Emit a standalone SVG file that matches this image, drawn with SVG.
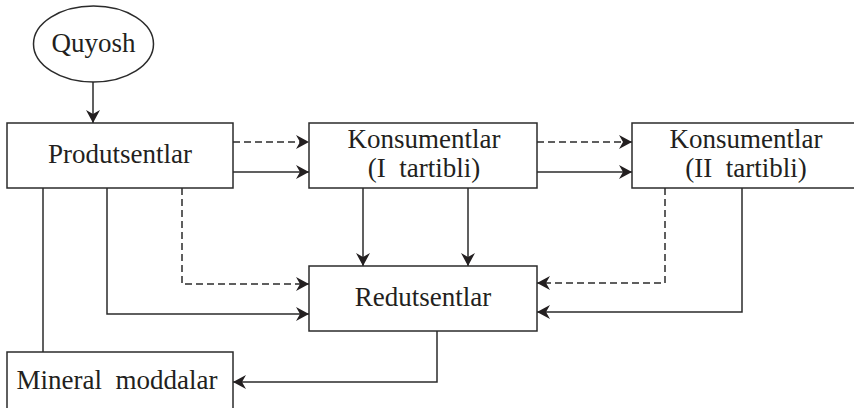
<svg xmlns="http://www.w3.org/2000/svg" width="854" height="408" viewBox="0 0 854 408">
  <style>
    .box { fill: #ffffff; stroke: #2b2b2b; stroke-width: 1.5; }
    .lbl { font-family: "Liberation Serif", "Times New Roman", serif; font-size: 27px; fill: #231f20; text-anchor: middle; }
    .ln { fill: none; stroke: #2b2b2b; stroke-width: 1.5; }
    .dash { stroke-dasharray: 7 4; }
    .arr { marker-end: url(#head); }
  </style>
  <defs>
    <marker id="head" viewBox="0 0 13 14" refX="13" refY="7" markerWidth="13" markerHeight="14" markerUnits="userSpaceOnUse" orient="auto">
      <path d="M0,0 L13,7 L0,14 L4,7 Z" fill="#231f20"/>
    </marker>
  </defs>
  <rect width="854" height="408" fill="#ffffff"/>

  <!-- connectors -->
  <g id="connectors">
    <path class="ln arr" d="M93,82 V123"/>
    <path class="ln dash arr" d="M233,142 H309"/>
    <path class="ln arr" d="M233,172 H309"/>
    <path class="ln dash arr" d="M537,142 H632"/>
    <path class="ln arr" d="M537,172 H632"/>
    <path class="ln arr" d="M363,188 V266"/>
    <path class="ln arr" d="M468,188 V266"/>
    <path class="ln dash arr" d="M182,188 V284 H309"/>
    <path class="ln arr" d="M107,188 V314 H309"/>
    <path class="ln" d="M43,188 V352"/>
    <path class="ln dash arr" d="M665,188 V283 H537"/>
    <path class="ln arr" d="M742,188 V312 H537"/>
    <path class="ln arr" d="M437,331 V382 H233"/>
  </g>

  <g id="quyosh">
    <ellipse class="box" cx="93.5" cy="44" rx="60" ry="38"/>
    <text class="lbl" x="93.5" y="52">Quyosh</text>
  </g>

  <g id="produtsentlar">
    <rect class="box" x="7" y="123" width="226" height="65"/>
    <text class="lbl" x="120" y="163">Produtsentlar</text>
  </g>

  <g id="konsumentlar-1">
    <rect class="box" x="309" y="123" width="228" height="65"/>
    <text class="lbl" x="424" y="148">Konsumentlar</text>
    <text class="lbl" x="424" y="177">(I&#160; tartibli)</text>
  </g>

  <g id="konsumentlar-2">
    <rect class="box" x="632" y="123" width="240" height="65"/>
    <text class="lbl" x="746" y="148">Konsumentlar</text>
    <text class="lbl" x="746" y="177">(II&#160; tartibli)</text>
  </g>

  <g id="redutsentlar">
    <rect class="box" x="309" y="266" width="228" height="65"/>
    <text class="lbl" x="423" y="306">Redutsentlar</text>
  </g>

  <g id="mineral-moddalar">
    <rect class="box" x="7" y="352" width="226" height="70"/>
    <text class="lbl" x="117" y="389">Mineral&#160; moddalar</text>
  </g>
</svg>
